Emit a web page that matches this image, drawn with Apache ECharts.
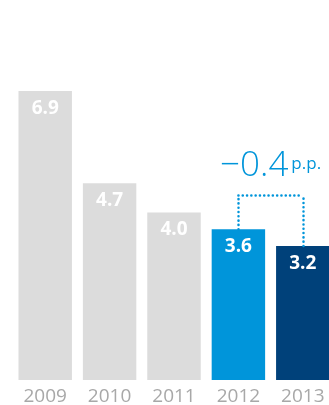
<!DOCTYPE html>
<html>
<head>
<meta charset="utf-8">
<script src="https://cdn.jsdelivr.net/npm/echarts@6/dist/echarts.min.js"></script>
<style>
  html, body { margin: 0; padding: 0; background: #fff; }
  #chart { width: 329px; height: 405px; }
</style>
</head>
<body>
<div id="chart"></div>
<script>
// Annual values, in percent
const years = ['2009', '2010', '2011', '2012', '2013'];
const values = [6.9, 4.7, 4.0, 3.6, 3.2];
const barColors = ['#dcdcdc', '#dcdcdc', '#dcdcdc', '#0095da', '#00417a'];

// Change between the last two years, shown as a bracket
const changeLabel = '−0.4';
const changeUnit = 'p.p.';
const bracketLevel = 4.42;

const accent = '#0095da';
const chart = echarts.init(document.getElementById('chart'), null, { renderer: 'canvas' });

chart.setOption({
  animation: false,
  grid: { left: 13, top: 45, right: -6, bottom: 25, containLabel: false, outerBoundsMode: 'none' },
  xAxis: {
    type: 'category',
    data: years,
    axisLine: { show: false },
    axisTick: { show: false },
    axisLabel: {
      color: '#a8a8a8',
      fontFamily: 'Open Sans',
      fontSize: 19,
      margin: 7
    }
  },
  yAxis: {
    type: 'value',
    min: 0,
    max: 8,
    show: false,
    splitLine: { show: false }
  },
  series: [{
    type: 'bar',
    barCategoryGap: '17%',
    data: values.map((v, i) => ({ value: v, itemStyle: { color: barColors[i] } })),
    label: {
      show: true,
      position: 'insideTop',
      distance: 8,
      color: '#fff',
      fontFamily: 'Open Sans',
      fontWeight: 'bold',
      fontSize: 19,
      formatter: (p) => p.value.toFixed(1)
    },
    markLine: {
      silent: true,
      symbol: 'none',
      lineStyle: { color: accent, width: 2.5, type: [0.1, 4.2], cap: 'round' },
      label: { show: false },
      data: [
        [{ coord: [years[3], values[3]] }, { coord: [years[3], bracketLevel] }],
        [{ coord: [years[4], values[4]] }, { coord: [years[4], bracketLevel] }],
        [
          {
            coord: [years[3], bracketLevel],
            label: {
              show: true,
              position: 'middle',
              distance: 11,
              formatter: '{a|' + changeLabel + '}{b|' + changeUnit + '}',
              rich: {
                a: { fontFamily: 'Open Sans', fontSize: 35, color: accent, fontWeight: 300, verticalAlign: 'bottom', lineHeight: 40 },
                b: { fontFamily: 'Open Sans', fontSize: 17, color: accent, verticalAlign: 'bottom', padding: [0, 0, 11, 3], lineHeight: 40 }
              }
            }
          },
          { coord: [years[4], bracketLevel] }
        ]
      ]
    }
  }]
});
</script>
</body>
</html>
